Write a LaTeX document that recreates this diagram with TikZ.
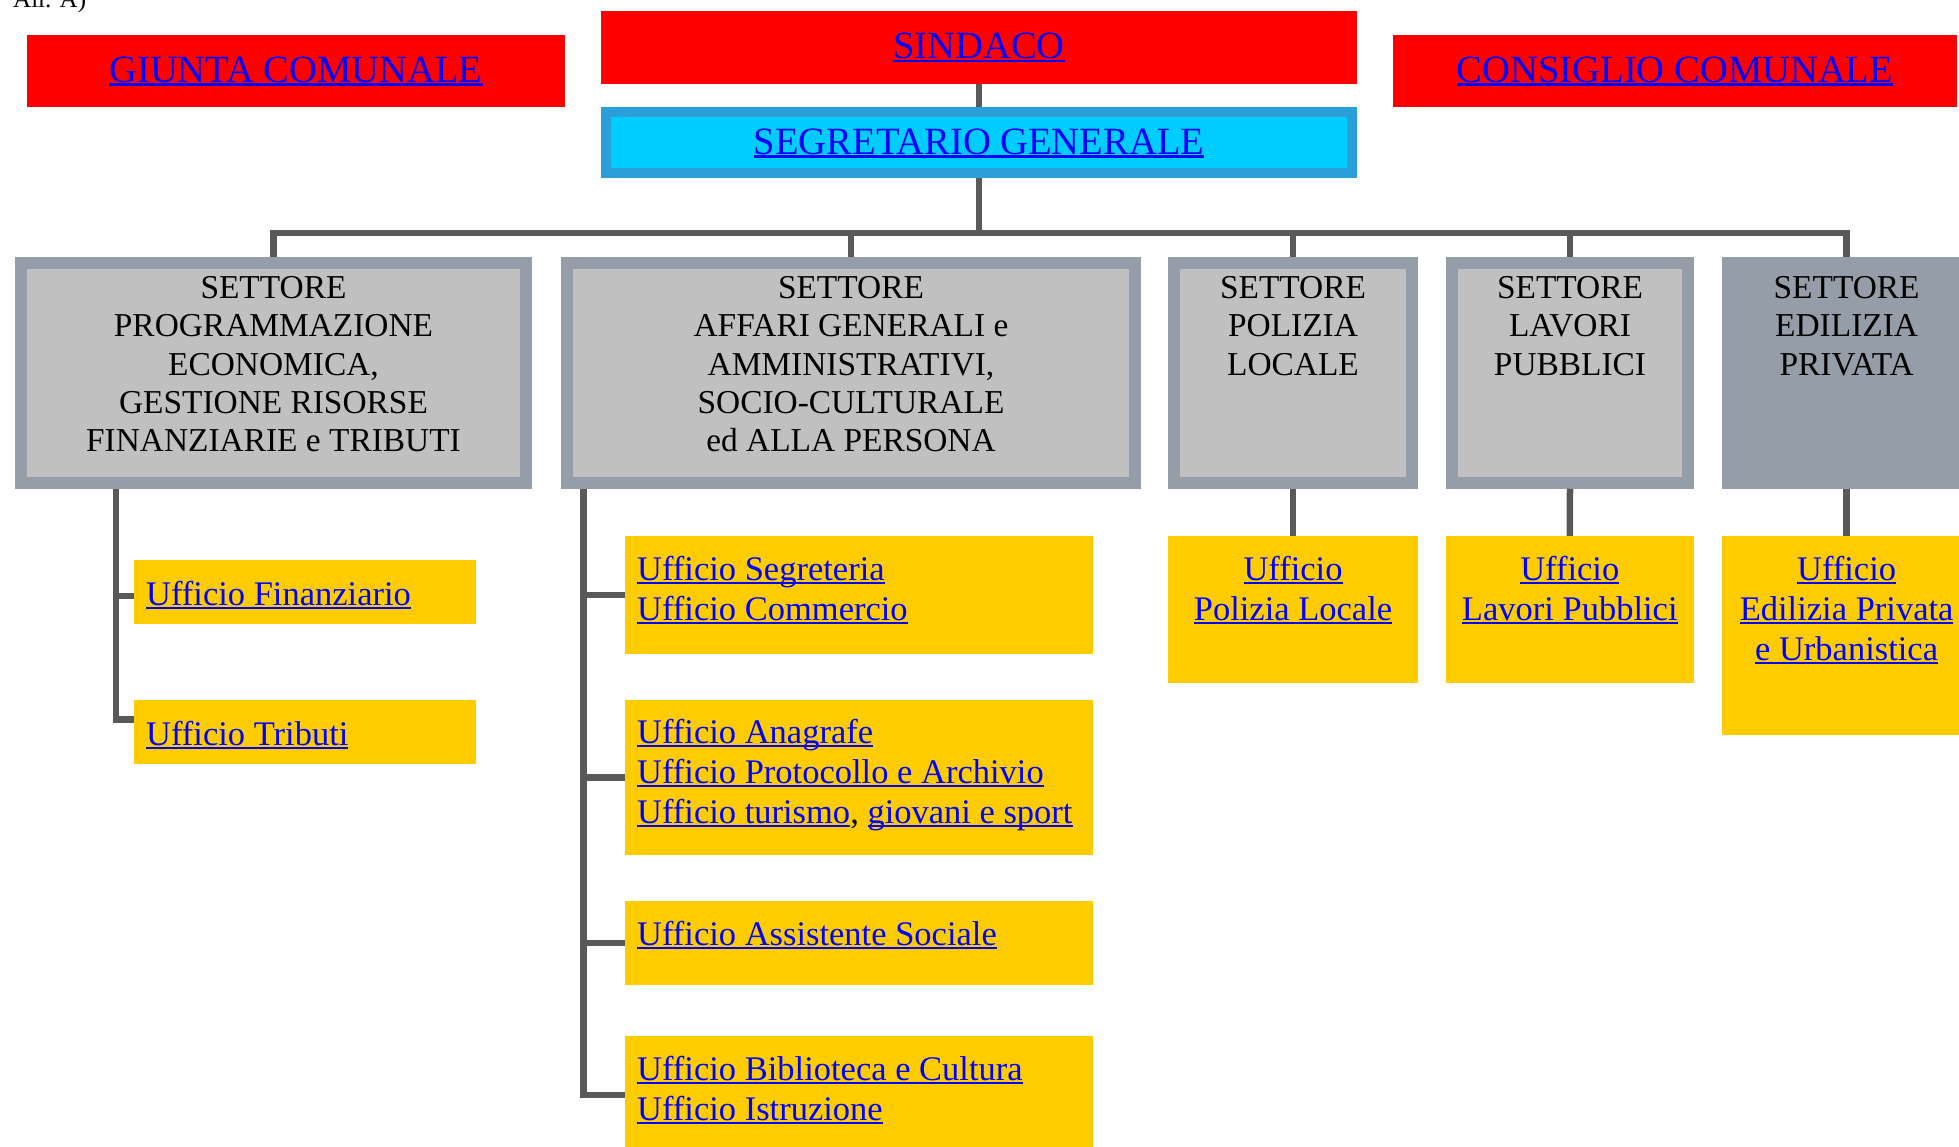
\documentclass[tikz,border=0pt]{standalone}
\usepackage{fontspec}
\setmainfont{Liberation Serif}[Ligatures=NoCommon]
\usetikzlibrary{positioning}

\definecolor{linkblue}{RGB}{0,0,255}
\definecolor{cyanfill}{RGB}{0,204,255}
\definecolor{cyanedge}{RGB}{43,159,217}
\definecolor{grayedge}{RGB}{149,157,168}
\definecolor{grayfill}{RGB}{192,192,192}
\definecolor{offyellow}{RGB}{255,204,0}
\definecolor{conngray}{RGB}{89,89,89}

\newsavebox\lnkbox
\newcommand{\lnk}[1]{\sbox\lnkbox{#1}\rlap{\rule[-3.5pt]{\wd\lnkbox}{2.5pt}}\usebox\lnkbox}

\tikzset{
  redbox/.style={rectangle, fill=red, inner sep=0, minimum height=72pt, text=linkblue, font=\fontsize{38.6}{44}\selectfont},
  segbox/.style={rectangle, fill=cyanfill, draw=cyanedge, line width=10pt, inner sep=0, text=linkblue, font=\fontsize{38.6}{44}\selectfont},
  sectbox/.style={rectangle, fill=grayfill, draw=grayedge, line width=12pt, inner sep=0, minimum height=219.5pt},
  secttext/.style={anchor=north, align=center, inner sep=0, font=\fontsize{33.4}{38.4}\selectfont},
  offbox/.style={rectangle, fill=offyellow, inner sep=0},
  offtext/.style={anchor=north west, align=left, inner sep=0, text=linkblue, font=\fontsize{34.5}{40}\selectfont},
  offtextc/.style={offtext, anchor=north, align=center},
  conn/.style={draw=conngray, line width=6.5pt}
}

\begin{document}
\begin{tikzpicture}[x=1pt,y=-1pt]
        \useasboundingbox (0,0) rectangle (1959,1147);
        % Nodes
        \node (all) at (13,8) [anchor=base west, inner sep=0, font=\fontsize{25}{30}\selectfont] {All. A)};
        \node (giunta) at (296,71) [redbox, minimum width=538pt] {\lnk{GIUNTA COMUNALE}};
        \node (sindaco) at (979,47.5) [redbox, minimum width=756pt, minimum height=73pt] {\lnk{SINDACO}};
        \node (consiglio) at (1675,71) [redbox, minimum width=564pt] {\lnk{CONSIGLIO COMUNALE}};
        \node (segr) at (979,143) [segbox, minimum width=746pt, minimum height=61pt] {\lnk{SEGRETARIO GENERALE}};

        % Settori
        \node (s1) at (273.5,373) [sectbox, minimum width=505pt] {};
        \node (s2) at (851,373) [sectbox, minimum width=568pt] {};
        \node (s3) at (1293,373) [sectbox, minimum width=238pt] {};
        \node (s4) at (1570,373) [sectbox, minimum width=236.5pt] {};
        \node (s5) at (1846.6,373) [sectbox, fill=grayedge, minimum width=238pt] {};
        \node (s1t) at (273.5,276) [secttext] {SETTORE\\PROGRAMMAZIONE\\ECONOMICA,\\GESTIONE RISORSE\\FINANZIARIE e TRIBUTI};
        \node (s2t) at (851,276) [secttext] {SETTORE\\AFFARI GENERALI e\\AMMINISTRATIVI,\\SOCIO-CULTURALE\\ed ALLA PERSONA};
        \node (s3t) at (1293,276) [secttext] {SETTORE\\POLIZIA\\LOCALE};
        \node (s4t) at (1570,276) [secttext] {SETTORE\\LAVORI\\PUBBLICI};
        \node (s5t) at (1846.6,276) [secttext] {SETTORE\\EDILIZIA\\PRIVATA};

        % Uffici
        \node (f1) at (304.85,591.75) [offbox, minimum width=342.3pt, minimum height=63.5pt] {};
        \node (f2) at (304.85,731.75) [offbox, minimum width=342.3pt, minimum height=63.5pt] {};
        \node (a1) at (858.85,594.75) [offbox, minimum width=468.3pt, minimum height=117.5pt] {};
        \node (a2) at (858.85,777.3) [offbox, minimum width=468.3pt, minimum height=154.6pt] {};
        \node (a3) at (858.85,942.75) [offbox, minimum width=468.3pt, minimum height=83.5pt] {};
        \node (a4) at (858.85,1094.75) [offbox, minimum width=468.3pt, minimum height=117.5pt] {};
        \node (p1) at (1293,609.7) [offbox, minimum width=250pt, minimum height=147.4pt] {};
        \node (l1) at (1569.75,609.7) [offbox, minimum width=248.5pt, minimum height=147.4pt] {};
        \node (e1) at (1846.6,635.3) [offbox, minimum width=250pt, minimum height=198.6pt] {};
        \node (f1t) at (146,581.4) [offtext] {\lnk{Ufficio Finanziario}};
        \node (f2t) at (146,721.4) [offtext] {\lnk{Ufficio Tributi}};
        \node (a1t) at (637,556.4) [offtext] {\lnk{Ufficio Segreteria}\\\lnk{Ufficio Commercio}};
        \node (a2t) at (637,719.4) [offtext] {\lnk{Ufficio Anagrafe}\\\lnk{Ufficio Protocollo e Archivio}\\\lnk{Ufficio turismo}{\color{black},} \lnk{giovani e sport}};
        \node (a3t) at (637,921.4) [offtext] {\lnk{Ufficio Assistente Sociale}};
        \node (a4t) at (637,1056.4) [offtext] {\lnk{Ufficio Biblioteca e Cultura}\\\lnk{Ufficio Istruzione}};
        \node (p1t) at (1293,556.4) [offtextc] {\lnk{Ufficio}\\\lnk{Polizia Locale}};
        \node (l1t) at (1569.75,556.4) [offtextc] {\lnk{Ufficio}\\\lnk{Lavori Pubblici}};
        \node (e1t) at (1846.6,556.4) [offtextc] {\lnk{Ufficio}\\\lnk{Edilizia Privata}\\\lnk{e Urbanistica}};

        % Edges
        \coordinate (bus) at (979,233);
        \coordinate (t1) at (116,488.5);
        \coordinate (t2) at (583.5,488.5);
        \draw[conn] (sindaco.south) -- (segr.north);
        \draw[conn] (segr.south) -- (bus);
        \foreach \i in {1,...,5} {
            \draw[conn] (s\i.north) |- (bus);
        }
        \draw[conn] (t1) |- ([yshift=-4pt]f1.west);
        \draw[conn] (t1) |- ([yshift=12.5pt]f2.west);
        \foreach \n in {a1,a2,a3,a4} {
            \draw[conn] (t2) |- (\n.west);
        }
        \foreach \i/\n in {3/p1,4/l1,5/e1} {
            \draw[conn] (s\i.south) -- (\n.north);
        }
\end{tikzpicture}
\end{document}
